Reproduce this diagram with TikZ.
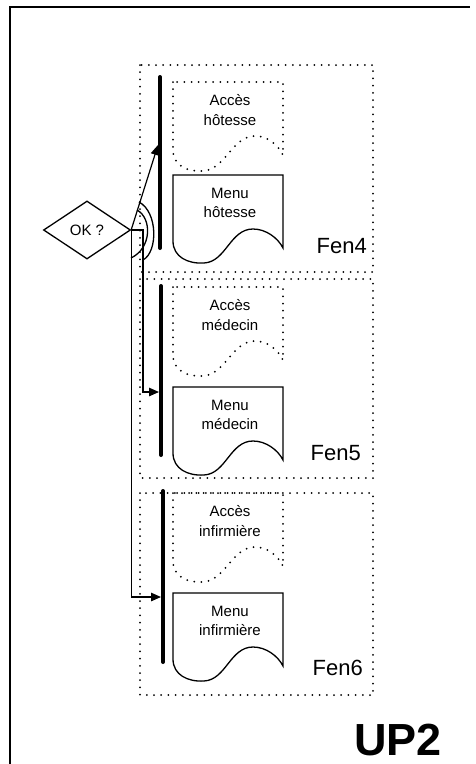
\documentclass[tikz,border=0pt]{standalone}
\usepackage{fontspec}
\setmainfont{Liberation Sans}
\usetikzlibrary{arrows.meta,shapes.geometric}

\begin{document}
\begin{tikzpicture}[x=1pt,y=-1pt,
  thin line/.style={line width=1.3pt},
  dotline/.style={line width=2pt, dash pattern=on 0pt off 7.2pt, line cap=round},
  bar/.style={line width=4pt, line cap=round},
  boxtext/.style={align=center, font=\fontsize{15}{19.5}\selectfont, inner sep=0pt},
  fenlabel/.style={anchor=base east, font=\fontsize{22}{24}\selectfont, inner sep=0pt},
  flow/.style={line width=1.2pt, -{Triangle[length=10pt,width=8.5pt]}}]

\useasboundingbox (0,0) rectangle (475,764);

% page frame (only top and left show)
\draw[line width=2pt] (10,764) -- (10,7) -- (470,7);

% windows Fen4, Fen5, Fen6
\foreach \n/\who/\fa/\fb/\ta/\tm/\bx/\ba/\bb/\lx/\ly in {4/hôtesse/65/272/82/175/160/77/248/367/253,
    5/médecin/279/478/287/387/161/286/455/361/460,
    6/infirmière/493/695/493/593/163/491/662/363/675} {
  \draw[dotline] (140,\fa) rectangle (373,\fb);
  % access (dotted document)
  \draw[dotline] (173,\ta) -- (173,\ta+68) .. controls (173,\ta+84) and (188,\ta+90) .. (203,\ta+89)
    .. controls (225,\ta+88) and (232,\ta+54) .. (255,\ta+54)
    .. controls (268,\ta+54) and (278,\ta+63) .. (283,\ta+73) -- (283,\ta) -- cycle;
  \node[boxtext] (acc\n) at (230,\ta+28) {Accès\\\who};
  % menu (solid document)
  \draw[thin line] (173,\tm) -- (173,\tm+66) .. controls (173,\tm+82) and (188,\tm+89) .. (204,\tm+88)
    .. controls (226,\tm+87) and (230,\tm+54) .. (253,\tm+54)
    .. controls (266,\tm+54) and (278,\tm+63) .. (283,\tm+73) -- (283,\tm) -- cycle;
  \node[boxtext] (menu\n) at (230,\tm+28) {Menu\\\who};
  % entry bar and label
  \draw[bar] (\bx,\ba) -- (\bx,\bb);
  \node[fenlabel] (fen\n) at (\lx,\ly) {Fen\n};
}

% test
\node[draw, thin line, diamond, minimum width=87pt, minimum height=58pt, inner sep=0pt,
  font=\fontsize{15}{18}\selectfont] (ok) at (87,230) {OK ?};

\coordinate (in4) at (158,145);
\coordinate (in5) at (159,392);
\coordinate (in6) at (161,597);
\coordinate (split) at (143,230);

\draw[flow] (ok.east) -- (in4);
\draw[flow] (ok.east) -- (split) |- (in5);
\draw[flow] (ok.east) |- (in6);

% branch arcs
\draw[thin line] (139,202) .. controls (158,212) and (158,252) .. (143,260);
\draw[thin line] (137,210) .. controls (152,218) and (152,248) .. (131,258);

\node[anchor=base east, inner sep=0pt, font=\bfseries\fontsize{45}{48}\selectfont] (up) at (442,755) {UP2};

\end{tikzpicture}
\end{document}
